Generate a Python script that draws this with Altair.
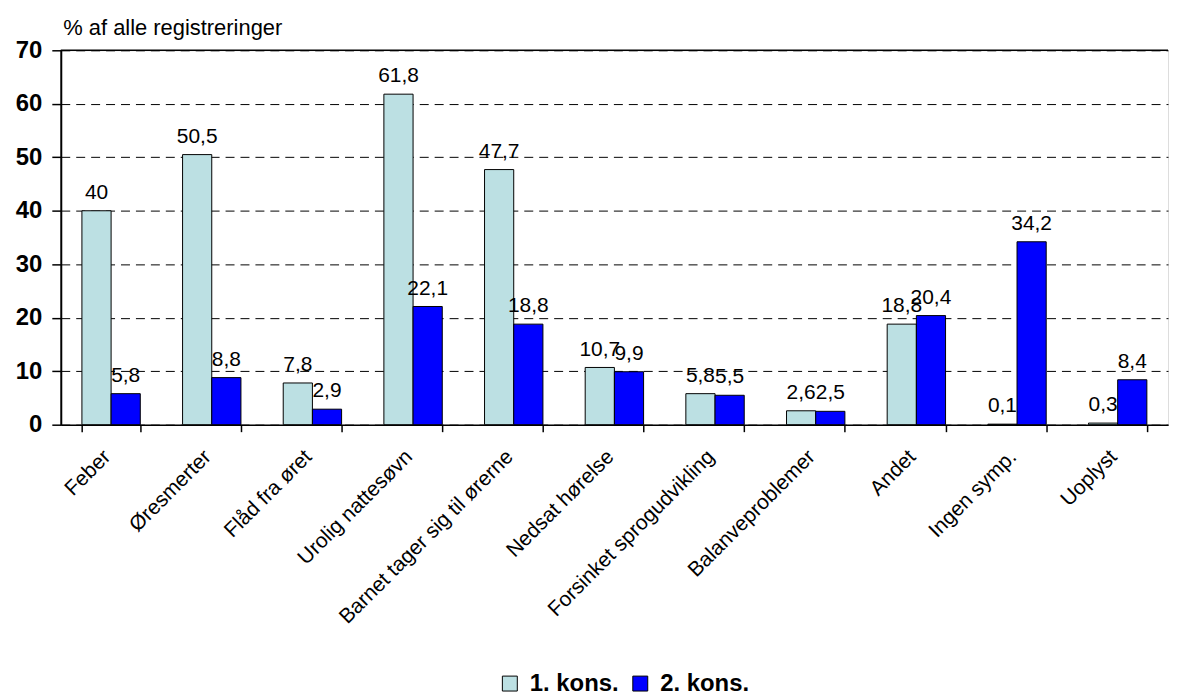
import altair as alt
import pandas as pd

categories = ["Feber", "Øresmerter", "Flåd fra øret", "Urolig nattesøvn",
              "Barnet tager sig til ørerne", "Nedsat hørelse",
              "Forsinket sprogudvikling", "Balanveproblemer", "Andet",
              "Ingen symp.", "Uoplyst"]
series = ["1. kons.", "2. kons."]
kons1 = [40, 50.5, 7.8, 61.8, 47.7, 10.7, 5.8, 2.6, 18.8, 0.1, 0.3]
kons2 = [5.8, 8.8, 2.9, 22.1, 18.8, 9.9, 5.5, 2.5, 20.4, 34.2, 8.4]
y_ticks = [0, 10, 20, 30, 40, 50, 60, 70]
top_line = [70]

FONT = "Liberation Sans"
LIGHT = "#BCE0E3"
DARK = "#0000FF"

rows = []
for i, c in enumerate(categories):
    rows.append({"cat": c, "serie": series[0], "value": kons1[i]})
    rows.append({"cat": c, "serie": series[1], "value": kons2[i]})
df = pd.DataFrame(rows)

x_enc = alt.X(
    "cat:N", sort=categories,
    scale=alt.Scale(paddingInner=0.42, paddingOuter=0.21),
    axis=alt.Axis(title=None, labelAngle=-45, labelAlign="right", labelBaseline="top",
                  labelFontSize=21, labelFont=FONT, labelColor="black", labelPadding=14,
                  labelOffset=-12,
                  tickBand="extent", tickSize=7, tickColor="black", tickWidth=1.5,
                  domainColor="black", domainWidth=1.5, labelLimit=400),
)
xoff = alt.XOffset("serie:N", sort=series)
y_scale = alt.Scale(domain=[0, 70], nice=False)

base = alt.Chart(df)

bars = base.mark_bar(stroke="black", strokeWidth=1).encode(
    x=x_enc,
    xOffset=xoff,
    y=alt.Y("value:Q", scale=y_scale,
            axis=alt.Axis(values=y_ticks, title="% af alle registreringer", titleAngle=0,
                          titleX=2, titleY=-16, titleAlign="left", titleBaseline="alphabetic",
                          titleFontSize=22, titleFontWeight="normal", titleFont=FONT,
                          titleColor="black",
                          labelFontSize=24, labelFontWeight="bold", labelFont=FONT,
                          labelColor="black", tickSize=9, tickColor="black", tickWidth=1.5,
                          labelPadding=10, grid=True, gridDash=[9, 6], gridColor="black",
                          gridOpacity=1, gridWidth=1, domainColor="black", domainWidth=2)),
    color=alt.Color("serie:N", sort=series,
                    scale=alt.Scale(domain=series, range=[LIGHT, DARK]),
                    legend=alt.Legend(orient="none", legendX=439, legendY=624,
                                      direction="horizontal", title=None,
                                      symbolType="square", symbolSize=225,
                                      symbolStrokeColor="black", symbolStrokeWidth=1,
                                      symbolOpacity=1,
                                      labelFontSize=24, labelFontWeight="bold",
                                      labelFont=FONT, labelColor="black",
                                      columnPadding=9, labelOffset=8)),
)

labels = base.transform_calculate(
    label="replace(toString(datum.value), '.', ',')"
).mark_text(baseline="bottom", dy=-8, fontSize=21, font=FONT, color="black").encode(
    x=alt.X("cat:N", sort=categories),
    xOffset=xoff,
    y=alt.Y("value:Q", scale=y_scale),
    text="label:N",
)

top = alt.Chart(pd.DataFrame({"y": top_line})).mark_rule(color="black", strokeWidth=1.5).encode(
    y=alt.Y("y:Q", scale=y_scale)
)

chart = alt.layer(bars, labels, top).properties(
    width=1112, height=376,
    autosize=alt.AutoSizeParams(type="none"),
    padding={"left": 53, "top": 41, "right": 2, "bottom": 272},
).configure_view(strokeWidth=0).configure(background="white")

chart.save("out.html", embed_options={"renderer": "svg", "actions": False})
